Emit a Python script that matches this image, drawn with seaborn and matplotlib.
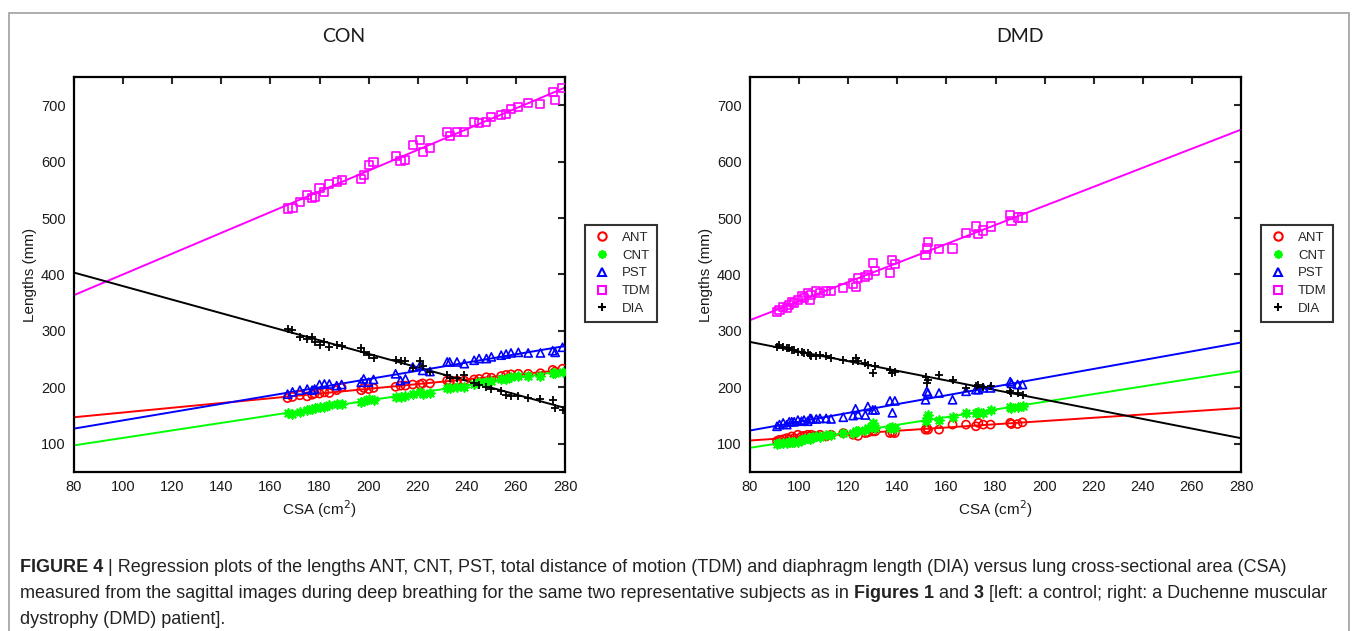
import numpy as np
import matplotlib
matplotlib.use("Agg")
import matplotlib.pyplot as plt
from matplotlib.lines import Line2D
from matplotlib.patches import Rectangle
from matplotlib import font_manager
import seaborn as sns

# ---- data ----
series = ['ANT', 'CNT', 'PST', 'TDM', 'DIA']

con_csa = [167, 169, 172, 175, 177, 178, 180, 182, 184, 187, 189, 197, 198, 200, 202, 211, 213, 215, 218, 221,
           222, 225, 232, 233, 236, 239, 243, 245, 248, 250, 254, 256, 258, 261, 265, 270, 275, 276, 279]
con_ant = [181, 183, 186, 184, 187, 189, 189, 191, 190, 195, 200, 195, 199, 197, 199, 201, 203, 203, 205, 205,
           207, 207, 212, 210, 212, 212, 214, 215, 218, 217, 220, 222, 223, 224, 224, 225, 231, 228, 233]
con_cnt = [154, 153, 157, 160, 162, 164, 165, 166, 168, 170, 170, 174, 176, 180, 177, 183, 183, 184, 189, 191,
           188, 190, 198, 199, 201, 201, 206, 209, 209, 212, 215, 215, 218, 220, 220, 221, 225, 225, 228]
con_pst = [188, 192, 195, 197, 195, 197, 205, 206, 206, 203, 205, 209, 215, 209, 214, 224, 212, 215, 236, 239,
           230, 228, 245, 245, 245, 242, 248, 251, 251, 254, 257, 259, 261, 262, 261, 261, 265, 262, 271]
con_tdm = [517, 518, 529, 541, 535, 538, 553, 547, 560, 564, 568, 570, 576, 594, 600, 610, 601, 603, 629, 639,
           617, 624, 653, 645, 653, 653, 670, 668, 670, 679, 682, 685, 694, 697, 704, 702, 724, 710, 731]
con_dia = [304, 302, 290, 285, 290, 281, 275, 281, 272, 275, 273, 269, 263, 258, 252, 248, 247, 246, 234, 246,
           237, 228, 222, 217, 217, 222, 208, 205, 200, 197, 193, 187, 184, 184, 181, 180, 178, 164, 160]

dmd_csa = [91, 92, 93.5, 95, 96, 97, 98, 99.5, 101, 102, 103.5, 104.5, 105, 107, 108.5, 111, 113, 118, 122, 123,
           124, 127, 128, 130, 131, 137, 138, 139, 151.5, 152, 152.5, 157, 162.5, 168, 172, 173, 175, 178, 186,
           186.5, 189, 191]
dmd_ant = [105, 107, 108, 110, 108, 113, 110, 116, 113, 114, 116, 113, 116, 114, 116, 113, 116, 119, 116, 119,
           114, 119, 120, 122, 122, 119, 120, 119, 125, 128, 125, 125, 134, 134, 131, 137, 134, 134, 137,
           135, 135, 138]
dmd_cnt = [100, 101, 102, 102, 104, 103, 104, 104, 106, 108, 110, 108, 110, 113, 112, 116, 116, 119, 119, 122,
           122, 125, 128, 137, 128, 128, 130, 128, 140, 145, 151, 142, 148, 154, 155, 157, 155, 160, 166,
           164, 166, 167]
dmd_pst = [131, 134, 137, 134, 139, 139, 139, 142, 140, 142, 140, 145, 144, 144, 145, 145, 144, 147, 150, 162,
           152, 151, 166, 160, 160, 176, 155, 176, 178, 193, 190, 190, 178, 193, 196, 196, 199, 199, 210,
           207, 205, 205]
dmd_tdm = [334, 337, 343, 340, 346, 352, 349, 355, 361, 358, 367, 355, 364, 370, 367, 370, 370, 376, 384, 378,
           393, 396, 399, 420, 407, 403, 426, 418, 434, 446, 458, 445, 446, 474, 485, 472, 478, 485, 505,
           495, 501, 501]
dmd_dia = [272, 275, 272, 269, 269, 266, 266, 263, 263, 260, 260, 258, 255, 255, 258, 255, 252, 249, 246, 252,
           246, 243, 240, 225, 237, 231, 225, 228, 219, 207, 213, 222, 213, 199, 202, 204, 200, 202, 193,
           190, 190, 187]

x_ticks = [80, 100, 120, 140, 160, 180, 200, 220, 240, 260, 280]
y_ticks = [100, 200, 300, 400, 500, 600, 700]

colors = ['#ff0000', '#00ff00', '#0000ff', '#ff00ff', '#000000']
markers = ['o', (8, 2, 0), '^', 's', '+']
open_marker = [True, False, True, True, False]

sns.set_theme(style="white")
names = {f.name for f in font_manager.fontManager.ttflist}
base_font = 'Liberation Sans'
cap_font = 'Liberation Sans Narrow' if 'Liberation Sans Narrow' in names else 'Liberation Sans'
plt.rcParams['font.family'] = [base_font, 'DejaVu Sans']

fig = plt.figure(figsize=(13.57, 6.31), dpi=100)

W, H = 1357.0, 631.0
panels = [
    ('CON', con_csa, [con_ant, con_cnt, con_pst, con_tdm, con_dia], 74, 344),
    ('DMD', dmd_csa, [dmd_ant, dmd_cnt, dmd_pst, dmd_tdm, dmd_dia], 750, 1020),
]

for title, csa, vals, left_px, title_x in panels:
    ax = fig.add_axes([left_px / W, 1 - 472 / H, 491 / W, 395 / H])
    ax.set_xlim(80, 280)
    ax.set_ylim(50, 750)
    for i, name in enumerate(series):
        if open_marker[i]:
            skw = dict(facecolors='none', edgecolors=colors[i], s=34, linewidths=1.2, alpha=1, zorder=3)
        else:
            skw = dict(color=colors[i], s=40, linewidths=1.3, alpha=1, zorder=3)
        sns.regplot(x=np.array(csa, float), y=np.array(vals[i], float), ax=ax, ci=None, truncate=False,
                    marker=markers[i], color=colors[i], scatter_kws=skw,
                    line_kws=dict(lw=1.4, color=colors[i], zorder=2))
    ax.set_xlim(80, 280)
    ax.set_ylim(50, 750)
    ax.set_xticks(x_ticks)
    ax.set_yticks(y_ticks)
    ax.tick_params(direction='in', length=5, width=1.5, top=True, right=True,
                   labelsize=10.5, labelcolor='#1a1a1a', pad=6)
    for sp in ax.spines.values():
        sp.set_linewidth(1.6)
        sp.set_color('black')
        sp.set_visible(True)
    ax.set_xlabel('CSA (cm$^2$)', fontsize=11, color='#1a1a1a', labelpad=3)
    ax.set_ylabel('Lengths (mm)', fontsize=11, color='#1a1a1a', labelpad=3)
    fig.text(title_x / W, 1 - 37 / H, title, ha='center', va='center', fontsize=14,
             family=['Lato', 'DejaVu Sans'], color='#1a1a1a')

    handles = []
    for i, name in enumerate(series):
        handles.append(Line2D([], [], ls='none', marker=markers[i], markersize=6, markeredgewidth=1.5,
                              markerfacecolor='none' if open_marker[i] else colors[i],
                              markeredgecolor=colors[i], color=colors[i], label=name))
    lx = (left_px + 511) / W
    leg = fig.legend(handles=handles, loc='upper left', bbox_to_anchor=(lx, 1 - 225 / H),
                     fontsize=9.5, frameon=True, fancybox=False, edgecolor='black',
                     borderpad=0.5, labelspacing=0.42, handlelength=1.6, handletextpad=0.7,
                     borderaxespad=0)
    leg.get_frame().set_linewidth(1.5)

# outer gray frame
fig.patches.append(Rectangle((9 / W, -0.05), 1340 / W, 1 - 13 / H + 0.05, transform=fig.transFigure,
                             fill=False, edgecolor='#a0a0a0', lw=1.2))

# caption with bold runs
lines = [
    [("FIGURE 4", 'bold'), (" | Regression plots of the lengths ANT, CNT, PST, total distance of motion (TDM) and "
                            "diaphragm length (DIA) versus lung cross-sectional area (CSA)", 'normal')],
    [("measured from the sagittal images during deep breathing for the same two representative subjects as in ",
      'normal'), ("Figures 1", 'bold'), (" and ", 'normal'), ("3", 'bold'),
     (" [left: a control; right: a Duchenne muscular", 'normal')],
    [("dystrophy (DMD) patient].", 'normal')],
]
renderer = fig.canvas.get_renderer()
for k, runs in enumerate(lines):
    x = 20 / W
    y = 1 - (568 + 26 * k) / H
    for s, w in runs:
        t = fig.text(x, y, s, fontweight=w, fontsize=13, va='center', ha='left',
                     family=[cap_font, 'DejaVu Sans'], color='#222222')
        bb = t.get_window_extent(renderer)
        x = x + bb.width / W

fig.savefig('out.png', dpi=100)
